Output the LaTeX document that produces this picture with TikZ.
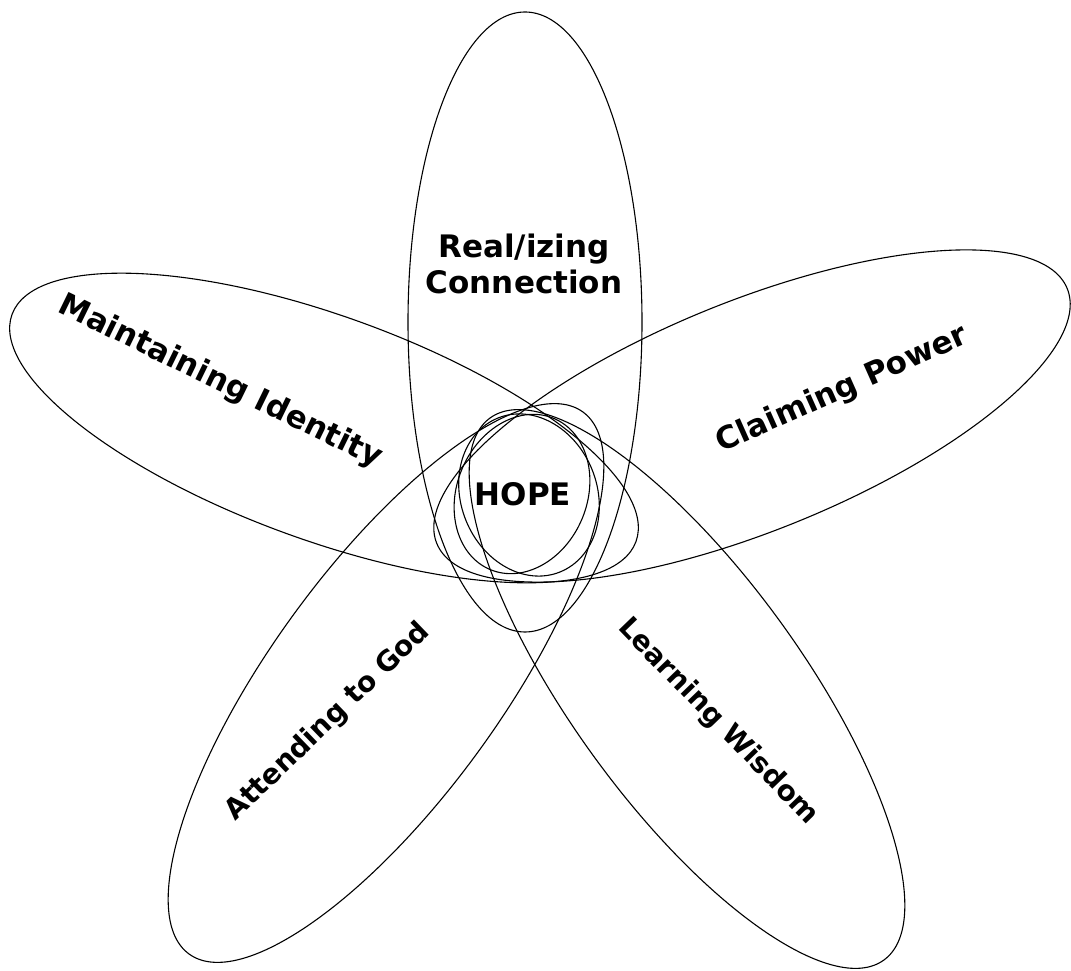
\documentclass[tikz,border=0pt]{standalone}
\usepackage{fontspec}
\setmainfont{DejaVu Sans}
\usetikzlibrary{shapes.geometric}

\tikzset{
  petal/.style={draw, ellipse, line width=1.1pt, inner sep=0pt},
  label/.style={font=\fontsize{31}{36}\selectfont\bfseries, align=center},
  smalllabel/.style={font=\fontsize{28}{32}\selectfont\bfseries}
}

\begin{document}
\begin{tikzpicture}[x=1pt,y=1pt]
\useasboundingbox (0,0) rectangle (1071,970);

% petals
\node (pconn) [petal, minimum width=234, minimum height=620] at (525,648) {};
\node (pident) [petal, minimum width=664, minimum height=224, rotate=-20] at (324,542) {};
\node (ppower) [petal, minimum width=680, minimum height=230, rotate=22] at (752,554) {};
\node (pgod) [petal, minimum width=670, minimum height=230, rotate=54] at (386,287) {};
\node (pwisdom) [petal, minimum width=670, minimum height=230, rotate=-54] at (687,281) {};

% centre
\node (hopea) [petal, minimum width=130, minimum height=164, rotate=-23] at (522,476) {};
\node (hopeb) [petal, minimum width=136, minimum height=166, rotate=22] at (529,475) {};

\node (conn) [label] at (524,706) {Real/izing\\Connection};
\node (hope) [label] at (523,476) {HOPE};
\node (ident) [label, rotate=-26] at (220,588) {Maintaining Identity};
\node (power) [label, rotate=24] at (842,580) {Claiming Power};
\node (god) [smalllabel, rotate=44] at (328,248) {Attending to God};
\node (wisdom) [smalllabel, rotate=-46] at (718,248) {Learning Wisdom};

\end{tikzpicture}
\end{document}
